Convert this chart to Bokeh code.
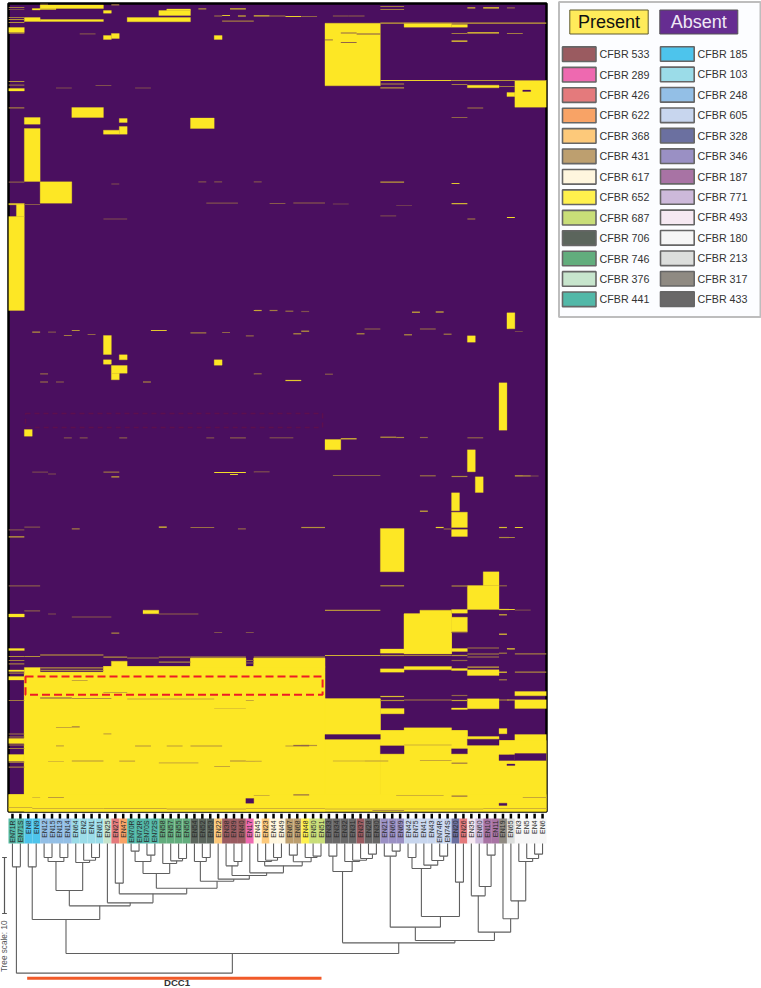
import math
from bokeh.plotting import figure
from bokeh.layouts import row, column
from bokeh.models import Range1d
from bokeh.core.properties import value
from bokeh.embed import file_html
from bokeh.resources import INLINE

# ---------- samples (columns of the heat map) ----------
sample_labels = ["EN71R","EN71S","EN8","EN9","EN12","EN15","EN13","EN14","EN64","EN2","EN1","EN61","EN25","EN27","EN47",
    "EN70R","EN72R","EN70S","EN72S","EN58","EN57","EN55","EN56","EN54","EN52","EN53","EN22","EN38","EN39","EN40","EN17",
    "EN45","EN23","EN44","EN49","EN67","EN68","EN48","EN50","EN51","EN33","EN34","EN32","EN31","EN37","EN28","EN30",
    "EN21","EN66","EN69","EN42","EN75","EN41","EN43","EN74R","EN74S","EN20","EN26","EN35","EN60","EN10","EN11","EN19",
    "EN65","EN3","EN5","EN4","EN6"]
sample_groups = ["441","441","185","185","248","248","248","248","103","103","103","103","376","426","622",
    "441","441","441","441","746","746","746","746","706","706","706","368","533","533","533","289",
    "617","368","617","617","431","431","652","687","687","433","433","433","433","533","433","433",
    "346","346","346","605","605","605","605","605","605","328","426","493","771","187","187","317",
    "213","180","180","180","180"]

# ---------- legend ----------
legend_left = [("CFBR 533","#9a5b60"),("CFBR 289","#ee69b0"),("CFBR 426","#e47a7c"),("CFBR 622","#f8a366"),
    ("CFBR 368","#fdc97a"),("CFBR 431","#bd9f6f"),("CFBR 617","#fff6de"),("CFBR 652","#fff14d"),("CFBR 687","#c9de78"),
    ("CFBR 706","#5b655c"),("CFBR 746","#62ad7d"),("CFBR 376","#c7e5cd"),("CFBR 441","#52b8a8")]
legend_right = [("CFBR 185","#4dc4ec"),("CFBR 103","#9bdce8"),("CFBR 248","#93bfe6"),("CFBR 605","#c8d6ee"),
    ("CFBR 328","#6b70a0"),("CFBR 346","#9a90c4"),("CFBR 187","#a873a4"),("CFBR 771","#cdb9da"),("CFBR 493","#f6e9f2"),
    ("CFBR 180","#f6f6f6"),("CFBR 213","#dcdedc"),("CFBR 317","#8f8a82"),("CFBR 433","#696868")]
group_colors = {n.split()[1]: c for n, c in legend_left + legend_right}

# ---------- heat map: gene rows where a run of samples is present (col0, col1, row0, row1) ----------
present_top = [(4,12,4.5,8),(4,6,8,9),(3,4,8,9.5),(12,13,10,12.7),(2,4,17,21),(4,12,19,21),(15,23,17,21.3),
    (19,23,10,15),(20,23,8.5,10),(0,2,27,32),(0,2,88,90.5),(12,13,35,39),(13,14,33,38),(26,27,35,39),
    (8,12,107,117),(2,4,117,123.7),(14,15,118,122),(23,26,117.5,128),(12,14,129.7,133.7),(14,15,126,133.7),
    (2,4,128,181),(4,8,181.3,202.7),(0,2,203,204.3),(1,2,204,216),(0,2,216,310),(12,13,335,354),(14,15,354.3,359.3),
    (12,13,359.3,363.7),(26,27,359.3,364.7),(13,15,365,372.7),(13,14,372.7,379.3),(62,63,382.3,429.7),(2,3,429,435.7),
    (40,47,22.7,85.3),(50,56,22.7,26.7),(56,58,24,26.7),(58,62,84.7,87.3),(64,68,80,106.7),(63,64,92,96),
    (63,64,312.3,328.3),(58,59,335.3,341.7),(40,42,439,449.3),(58,59,449.3,471.3),(59,60,476.3,492),
    (56,57,492.3,510.3),(56,58,511.7,527),(56,58,529,536),(47,50,528,571.3),(60,62,571.3,585),(58,62,585,609),
    (0,2,613.5,616.5),(17,19,609.7,613.3)]
present_bottom = [(50,52,613.3,653.3),(52,56,609.7,653.3),(50,56,613.3,653.3),(56,58,609,612.7),(56,58,616.7,631.3),
    (0,2,648,650),(0,2,669.5,671),(0,2,676,679.5),(0,2,738,743),(0,2,754,760.7),(0,2,794,811),
    (2,4,667,811),(4,12,671.7,811),(12,13,666,811),(13,15,660.7,811),(15,23,666,811),(23,30,657.7,811),
    (30,31,666,811),(31,40,657.7,811),(40,47,698.3,811),
    (47,50,648.5,652.7),(47,50,668.3,671.7),(47,50,708,713.3),(47,50,730,811),
    (50,56,666,669.3),(50,56,727.3,811),(56,58,648,651),(56,58,668,670),(56,58,707.5,709),(56,58,730,811),
    (58,62,669.3,675),(58,62,698.3,708.3),(58,62,736,811),(62,63,728,733.3),(62,64,740,811),
    (64,68,691,695.3),(64,68,699.3,708),(64,68,734,811),
    # the same presence read as longer unbroken runs
    (2,47,698.3,811),(2,40,671.7,811),(12,40,666,672),(23,30,657.7,667),(31,40,657.7,667),
    (47,68,740,811),(47,58,730,741),(0,68,794,811)]
absent_patches = [(40,47,734,738.7),(47,50,745.3,753.3),(56,58,748.3,753.3),(58,62,738.7,744.7),(62,64,754.3,760),
    (64,68,753,760),(62,63,802.7,805),(63,64,763.5,765),(30,31,798,802.7),(65,66,89.6,91)]

# partial rows: (col0, col1, row, level)
partial_rows = [
    (0,2,7,.5),(0,2,9,.3),(0,2,17,.5),(0,2,19,.6),(0,2,22,.6),(0,2,33,.4),(0,2,81,.6),(0,2,84.7,.4),(0,2,107.3,.5),
    (4,5,3.5,.5),(13,14,4.3,.5),(24,25,8.3,.6),(28,30,8.3,.8),(27,28,15,.85),(29,30,15.5,.9),(31,33,15.3,.8),(26,27,15.5,.5),
    (27,31,20.7,.5),(33,35,15.5,.5),(35,37,16,.9),(37,39,16,.4),(41,43,15.5,.4),(43,45,15.5,.4),(47,50,6,.5),(47,50,9,.5),
    (58,59,7.3,.8),(60,62,7.3,.95),(63,64,7.3,.4),(47,68,22.6,.7),(58,62,32.3,.95),(56,58,40.7,.95),(63,65,33,.5),(56,58,33,.5),
    (47,56,80,.9),(56,68,80,.6),(47,50,83.5,.6),(47,50,87.3,.6),(56,58,84,.5),(62,64,86,.5),(42,44,32.5,.4),(44,47,33.5,.3),
    (40,41,39.3,.55),(42,44,42,.4),(58,60,107.5,.5),(56,58,117,.4),(9,11,33.3,.3),(6,8,87.5,.3),(11,13,85,.3),(16,18,87.5,.3),
    (0,2,181.7,.35),(24,25,181.3,.3),(26,27,181.3,.3),(47,50,181.7,.65),(56,57,183,.85),(13,14,183.5,.3),(31,32,181.3,.3),
    (25,29,202.7,.3),(33,35,203,.35),(36,40,202.5,.4),(56,58,203.2,.75),(41,43,203.5,.25),(49,51,205,.2),(63,64,217,.95),
    (58,59,218.5,.55),(47,49,215.3,.25),(12,15,218.5,.3),(2,4,204,.35),
    (31,32,310,.7),(33,34,310,.5),(51,52,311.7,.75),(54,55,311.5,.75),(35,36,310.7,.45),(37,38,311,.3),(64,65,331,.25),
    (18,20,330,.85),(3,4,331.7,.6),(5,6,331.7,.3),(7,8,335,.5),(8,9,330,.6),(10,11,334,.4),(23,25,332.3,.5),(27,28,332,.4),
    (30,31,335.3,.4),(37,38,330.7,.65),(36,37,333.3,.6),(44,45,333.3,.6),(50,51,334.3,.6),(55,56,333.7,.5),(52,54,328.5,.4),
    (45,47,328.5,.35),(4,5,373.3,.4),(31,32,373.3,.4),(4,5,381.5,.5),(6,7,381.5,.4),(17,18,381.5,.65),(35,37,380,.85),(40,41,373.7,.35),
    (7,8,437.3,.3),(9,10,437.3,.3),(14,15,437.3,.35),(25,26,437.3,.3),(28,30,437.3,.35),(33,36,437.3,.3),(42,44,438.3,.85),
    (47,49,436.7,.65),(49,50,437,.55),(52,53,437,.4),(58,60,437.3,.4),
    (26,30,472,.95),(28,29,474,.9),(12,14,471.7,.45),(13,14,476.3,.7),(5,6,473.5,.3),(3,5,471.7,.25),(31,33,471.3,.3),
    (41,47,475,.35),(52,54,475.3,.45),(64,66,475.3,.7),(56,58,476,.55),(65,67,475.5,.3),
    (52,53,510.7,.75),(2,4,526.7,.3),(19,20,526.7,.85),(23,26,527,.45),(8,9,528.3,.5),(29,30,528.3,.4),(0,2,529.3,.3),(0,2,536.3,.7),
    (37,40,527,.6),(62,63,527,.8),(64,65,527,.9),(54,55,527,.9),(62,64,537,.55),(55,56,528.5,.4),
    (0,4,585.3,.35),(47,50,585.3,.6),(56,58,585.5,.55),(62,63,585.3,.4),
    (40,47,609.8,.6),(2,4,610.3,.35),(19,24,613.5,.4),(62,63,614.3,.75),(8,13,616.5,.35),(5,6,613.5,.3),(62,64,609,.9),(64,66,609.7,.25),
    (13,14,632.7,.55),(26,27,632,.3),(30,31,632,.3),(62,63,633.7,.85),(56,58,632,.3),
    # bands around the lower block
    (0,2,656,.6),(0,2,660,.5),(0,2,663.3,.5),(0,2,672.7,.5),(0,2,700,.5),(0,2,733.5,.5),(0,2,736.5,.5),(0,2,744.5,.5),(0,2,748,.5),
    (0,2,761.7,.6),(0,2,766.7,.5),(2,4,656,.6),(4,12,654.5,.7),(4,12,667.3,.6),(4,12,669.8,.55),(12,15,656.7,.6),(15,19,657.5,.5),
    (19,23,656.7,.5),(19,23,661.7,.55),(23,30,656.7,.6),(31,40,656.7,.55),(30,31,660,.4),(30,31,662.5,.4),
    (40,47,655,.75),(47,50,655,.6),(50,56,655,.5),(56,58,655,.6),(58,62,647.5,.5),(58,62,653.5,.55),(58,62,656.5,.5),
    (47,50,696,.8),(47,50,700,.6),(50,56,699.5,.5),(56,58,695,.4),(56,58,700,.7),(62,63,699.5,.5),(63,64,699.5,.8),
    (58,62,666.7,.7),(62,63,652.7,.5),(62,63,671.7,.9),(62,63,679.3,.5),(64,68,653.3,.5),(64,68,671.7,.55),(63,64,648.3,.9),(56,58,660,.4),
    # brown traces inside the yellow block
    (4,8,697.5,.3),(8,13,698,.6),(15,19,698.5,.7),(19,23,698.5,.7),(23,26,698.5,.7),(26,30,708,.85),(12,15,692,.7),(8,10,680,.7),
    (30,31,700,.7),(8,9,726.3,.5),(6,8,727,.7),(6,7,745.3,.7),(16,18,745.5,.6),(20,22,745.5,.65),(23,27,745.5,.6),(12,13,733.3,.7),
    (8,12,760.5,.6),(14,16,760.7,.7),(19,24,762.3,.75),(28,30,760.5,.55),(5,7,761,.8),(30,32,760.8,.75),(26,28,766,.7),(35,38,745.5,.7),
    (37,39,745,.6),(45,48,760.5,.7),(41,45,760.5,.75),(36,38,745,.4),(50,56,744.5,.75),(52,56,760,.7),(56,58,762.7,.45),(56,58,795.7,.45),
    (36,38,794.3,.45),(49,55,795,.75),(65,68,797,.7),(5,7,797,.65),(3,4,797,.8),(31,33,795,.75),(0,3,807,.75),(3,12,808,.75),(12,20,808,.7),
    (20,30,808.5,.7),(30,40,808,.75),(40,60,808.5,.75),(60,68,808,.75),(46,50,810,.6)]

highlight_box = (2.15, 39.7, 676, 694.3)
faint_box = (2.15, 39.7, 413, 427)

# ---------- dendrogram: (name, left, right, depth in tree-scale units) ----------
tree_merges = [("a",0,1,4.17),("b",2,3,4.17),("c1",4,5,2.5),("c2",6,7,2.5),("c","c1","c2",3.21),
    ("g1",10,11,2.5),("g2",9,"g1",2.98),("g",8,"g2",3.39),("eg","c","g",8.39),
    ("r5a",15,16,1.37),("r5b",17,18,2.08),("r5","r5a","r5b",3.21),("j1",21,22,2.68),("j",20,"j1",3.10),("r6",19,"j",3.57),
    ("r3","r5","r6",5.36),("k1",24,25,2.5),("k",23,"k1",3.21),("l1",28,29,3.21),("l",27,"l1",3.99),
    ("ra",33,34,2.5),("rb",32,"ra",2.98),("p",31,"rb",3.21),("s",35,36,2.08),("t1",38,39,2.26),("t",37,"t1",2.5),
    ("q","s","t",3.27),("o","p","q",3.99),("n",30,"o",5.24),("r8","l","n",5.71),("r7",26,"r8",6.37),("r4","k","r7",6.73),
    ("r2","r3","r4",7.98),("m1",13,14,7.08),("r1","m1","r2",8.99),("x12",12,"r1",10.6),("egx","eg","x12",11.13),("y","b","egx",13.57),
    ("h0",40,41,2.26),("h1",45,46,1.9),("h2",44,"h1",2.68),("h3",43,"h2",2.98),("h4",42,"h3",3.21),("P","h0","h4",5.0),
    ("tb",48,49,1.37),("T",47,"tb",2.26),("a2",50,51,2.5),("d1",54,55,2.26),("cb",53,"d1",3.04),("b2",52,"cb",3.87),("V","a2","b2",4.46),
    ("W",56,57,6.9),("U","V","W",13.04),("Q1","T","U",14.94),("e1",60,61,2.08),("e",59,"e1",7.68),("Q3",58,"e",9.35),
    ("i",66,67,1.9),("h5",65,"i",2.68),("g5",64,"h5",3.21),("f",63,"g5",10.24),("Q4",62,"f",13.45),("Q2","Q3","Q4",15.83),
    ("Q","Q1","Q2",17.32),("Z","P","Q",17.74),("X","y","Z",19.64),("root","a","X",23.15)]
tree_scale_value = 10

# ---------- styles ----------
PURPLE = (0x4a, 0x0f, 0x5f)
YELLOW = (0xfd, 0xe7, 0x25)
FONT = value("Liberation Sans")

def mix(level):
    return "#%02x%02x%02x" % tuple(int(round(a + (b - a) * level)) for a, b in zip(PURPLE, YELLOW))

# ---------- heat map figure ----------
n_cols = len(sample_labels)
p_heat = figure(width=554, height=813, frame_width=538, frame_height=808, min_border_left=8, min_border_right=8,
                min_border_top=3, min_border_bottom=2, x_range=Range1d(0, n_cols), y_range=Range1d(811, 3),
                frame_align=False, toolbar_location=None, output_backend="svg", tools="")
p_heat.background_fill_color = "#%02x%02x%02x" % PURPLE
p_heat.border_fill_color = None
p_heat.outline_line_color = "#000000"
p_heat.outline_line_width = 2.5
p_heat.grid.visible = False
p_heat.axis.visible = False

def draw_blocks(blocks, color):
    p_heat.quad(left=[b[0] for b in blocks], right=[b[1] for b in blocks], top=[b[2] for b in blocks],
                bottom=[b[3] for b in blocks], fill_color=color, line_color=color, line_width=0.3)

draw_blocks(present_top + present_bottom, mix(1))
draw_blocks(absent_patches, mix(0))
p_heat.quad(left=[r[0] for r in partial_rows], right=[r[1] for r in partial_rows],
            top=[r[2] - 0.6 for r in partial_rows], bottom=[r[2] + 0.6 for r in partial_rows],
            fill_color=[mix(r[3]) for r in partial_rows], line_color=None)
p_heat.quad(left=[faint_box[0]], right=[faint_box[1]], top=[faint_box[2]], bottom=[faint_box[3]],
            fill_color=None, line_color="#5d0f4e", line_width=1.4, line_dash="5 4")
p_heat.quad(left=[highlight_box[0]], right=[highlight_box[1]], top=[highlight_box[2]], bottom=[highlight_box[3]],
            fill_color=None, line_color="#ee1c25", line_width=2, line_dash="8 4")

# ---------- label strip and dendrogram ----------
UNIT = 538 / n_cols          # pixels per column
TREE_PX = 5.6                # pixels per tree-scale unit
p_tree = figure(width=554, height=175, x_range=Range1d(-8 / UNIT, n_cols + 8 / UNIT),
                y_range=Range1d(145 / TREE_PX, -30 / TREE_PX), min_border=0, frame_align=False,
                toolbar_location=None, output_backend="svg", tools="")
p_tree.axis.visible = False
p_tree.grid.visible = False
p_tree.outline_line_color = None
p_tree.border_fill_color = None

cols = list(range(n_cols))
centers = [k + 0.5 for k in cols]
p_tree.segment(centers, [-30 / TREE_PX] * n_cols, centers, [-24 / TREE_PX] * n_cols, line_color="#000000", line_width=2.5)
p_tree.quad(left=cols, right=[k + 1 for k in cols], top=[-25 / TREE_PX] * n_cols, bottom=[0] * n_cols,
            fill_color=[group_colors[g] for g in sample_groups], line_color=None)
p_tree.text(x=centers, y=[-23 / TREE_PX] * n_cols, text=sample_labels, angle=math.pi / 2,
            text_align="right", text_baseline="middle", text_font=FONT, text_font_size="6.9px", text_color="#2a2a2a")

pos = {k: (k + 0.5, 0.0) for k in cols}
xs0, ys0, xs1, ys1 = [], [], [], []
for name, left, right, depth in tree_merges:
    lx, ld = pos[left]
    rx, rd = pos[right]
    xs0 += [lx, rx, lx]; ys0 += [ld, rd, depth]
    xs1 += [lx, rx, rx]; ys1 += [depth, depth, depth]
    pos[name] = ((lx + rx) / 2, depth)
p_tree.segment(xs0, ys0, xs1, ys1, line_color="#5f5f5f", line_width=1.1)

bar_x = -4 / UNIT
p_tree.segment([bar_x], [2.5], [bar_x], [2.5 + tree_scale_value], line_color="#555555", line_width=1.2)
p_tree.segment([bar_x - .3, bar_x - .3], [2.5, 2.5 + tree_scale_value], [bar_x + .3, bar_x + .3], [2.5, 2.5 + tree_scale_value],
               line_color="#555555", line_width=1.2)
p_tree.text(x=[-4.3 / UNIT], y=[77 / TREE_PX], text=["Tree scale: %d" % tree_scale_value], angle=math.pi / 2,
            text_align="right", text_baseline="middle", text_font=FONT, text_font_size="8.2px", text_color="#555555")
dcc_span = (2.36, 39.56)
p_tree.segment([dcc_span[0]], [24.05], [dcc_span[1]], [24.05], line_color="#f15a29", line_width=3)
p_tree.text(x=[21.3], y=[24.82], text=["DCC1"], text_align="center", text_baseline="middle", text_font=FONT,
            text_font_size="9.6px", text_font_style="bold", text_color="#333333")

# ---------- legend ----------
p_leg = figure(width=207, height=320, x_range=Range1d(554, 761), y_range=Range1d(320, 0), min_border=0, frame_align=False,
               toolbar_location=None, output_backend="svg", tools="")
p_leg.axis.visible = False
p_leg.grid.visible = False
p_leg.outline_line_color = None
p_leg.border_fill_color = None
p_leg.quad(left=[558.5], right=[760], top=[1.5], bottom=[316.5], fill_color="#fcfdff", line_color="#bdbdbd", line_width=2)
p_leg.quad(left=[569.3, 659.3], right=[647.7, 737.3], top=[9.5, 9.5], bottom=[33.5, 33.5],
           fill_color=["#ffeb5a", "#662d91"], line_color=["#5f5a30", "#555555"], line_width=1)
p_leg.text(x=[608.5, 698.3], y=[21, 21], text=["Present", "Absent"], text_align="center", text_baseline="middle",
           text_font=FONT, text_font_size="18px", text_color=["#111111", "#f0e9f6"])
for entries, sx0, sx1, tx, y0 in ((legend_left, 562, 595.5, 599, 53.7), (legend_right, 660, 693.7, 697, 53.5)):
    ys = [y0 + 20.43 * i for i in range(len(entries))]
    p_leg.quad(left=[sx0] * len(ys), right=[sx1] * len(ys), top=[y - 7.3 for y in ys], bottom=[y + 7.3 for y in ys],
               fill_color=[e[1] for e in entries], line_color="#666666", line_width=1.6)
    p_leg.text(x=[tx] * len(ys), y=ys, text=[e[0] for e in entries], text_baseline="middle", text_font=FONT,
               text_font_size="10.7px", text_color="#333333")

layout = row(column(p_heat, p_tree, spacing=0), p_leg, spacing=0, margin=(0, 0, 0, 0))
open("out.html", "w").write(file_html(layout, INLINE))
